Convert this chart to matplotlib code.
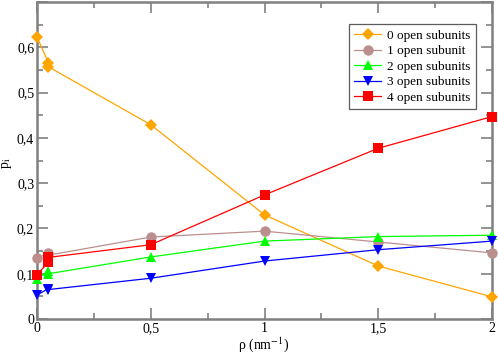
import matplotlib
matplotlib.use("Agg")
import matplotlib.pyplot as plt
from matplotlib.ticker import MultipleLocator, FuncFormatter

rho = [0, 0.05, 0.05, 0.5, 1, 1.5, 2]
p0 = [0.623, 0.566, 0.557, 0.429, 0.230, 0.117, 0.049]
p1 = [0.135, 0.145, 0.141, 0.181, 0.194, 0.170, 0.146]
p2 = [0.088, 0.106, 0.100, 0.137, 0.172, 0.182, 0.185]
p3 = [0.053, 0.067, 0.065, 0.090, 0.128, 0.153, 0.172]
p4 = [0.098, 0.125, 0.136, 0.164, 0.274, 0.377, 0.447]
labels = ["0 open subunits", "1 open subunit", "2 open subunits",
          "3 open subunits", "4 open subunits"]

plt.rcParams['font.family'] = ['Liberation Serif', 'DejaVu Serif']
plt.rcParams['mathtext.fontset'] = 'stix'

fig = plt.figure(figsize=(4.98, 3.57), dpi=100)
ax = fig.add_axes([37/498, (357-319)/357, (492-37)/498, (319-2)/357])

styles = [
    (p0, '#FFA500', 'D', 6),
    (p1, '#BC8F8F', 'o', 7.5),
    (p2, '#00FF00', '^', 7.5),
    (p3, '#0000FF', 'v', 7.5),
    (p4, '#FF0000', 's', 6.5),
]
for (vals, c, m, ms), lab in zip(styles, labels):
    ax.plot(rho, vals, color=c, marker=m, markersize=ms, linewidth=0.9,
            markeredgewidth=0, label=lab, clip_on=False, zorder=3)

ax.set_xlim(0, 2)
ax.set_ylim(0, 0.7)
ax.xaxis.set_major_locator(MultipleLocator(0.5))
ax.xaxis.set_minor_locator(MultipleLocator(0.25))
ax.yaxis.set_major_locator(MultipleLocator(0.1))
ax.yaxis.set_minor_locator(MultipleLocator(0.05))

def fmt(v, pos):
    if v > 0.65 and v < 0.75:
        return ''
    s = ('%.2f' % v).rstrip('0').rstrip('.')
    return s.replace('.', ',')
ax.xaxis.set_major_formatter(FuncFormatter(fmt))
ax.yaxis.set_major_formatter(FuncFormatter(fmt))

ax.tick_params(which='both', direction='in', top=True, right=True,
               color='#808080', labelsize=10, width=1.2)
ax.tick_params(which='major', length=8, pad=2)
ax.tick_params(which='minor', length=4)
for sp in ax.spines.values():
    sp.set_color('#808080')
    sp.set_linewidth(1.8)

ax.set_xlabel(r'ρ (nm$^{-1}$)', fontsize=10)
ax.set_ylabel(r'p$_{\rm i}$', fontsize=10)
ax.xaxis.set_label_coords((264-37)/455, -(335-319)/317)
ax.yaxis.set_label_coords(-(37-14)/455, (319-163)/317)

leg = ax.legend(loc='upper right', bbox_to_anchor=(0.965, 0.93),
                fontsize=9.5, frameon=True, fancybox=False,
                edgecolor='#333333', handlelength=2.0, handletextpad=0.5,
                borderpad=0.4, labelspacing=0.25, borderaxespad=0)
leg.get_frame().set_linewidth(0.9)

fig.savefig('out.png', dpi=100)
